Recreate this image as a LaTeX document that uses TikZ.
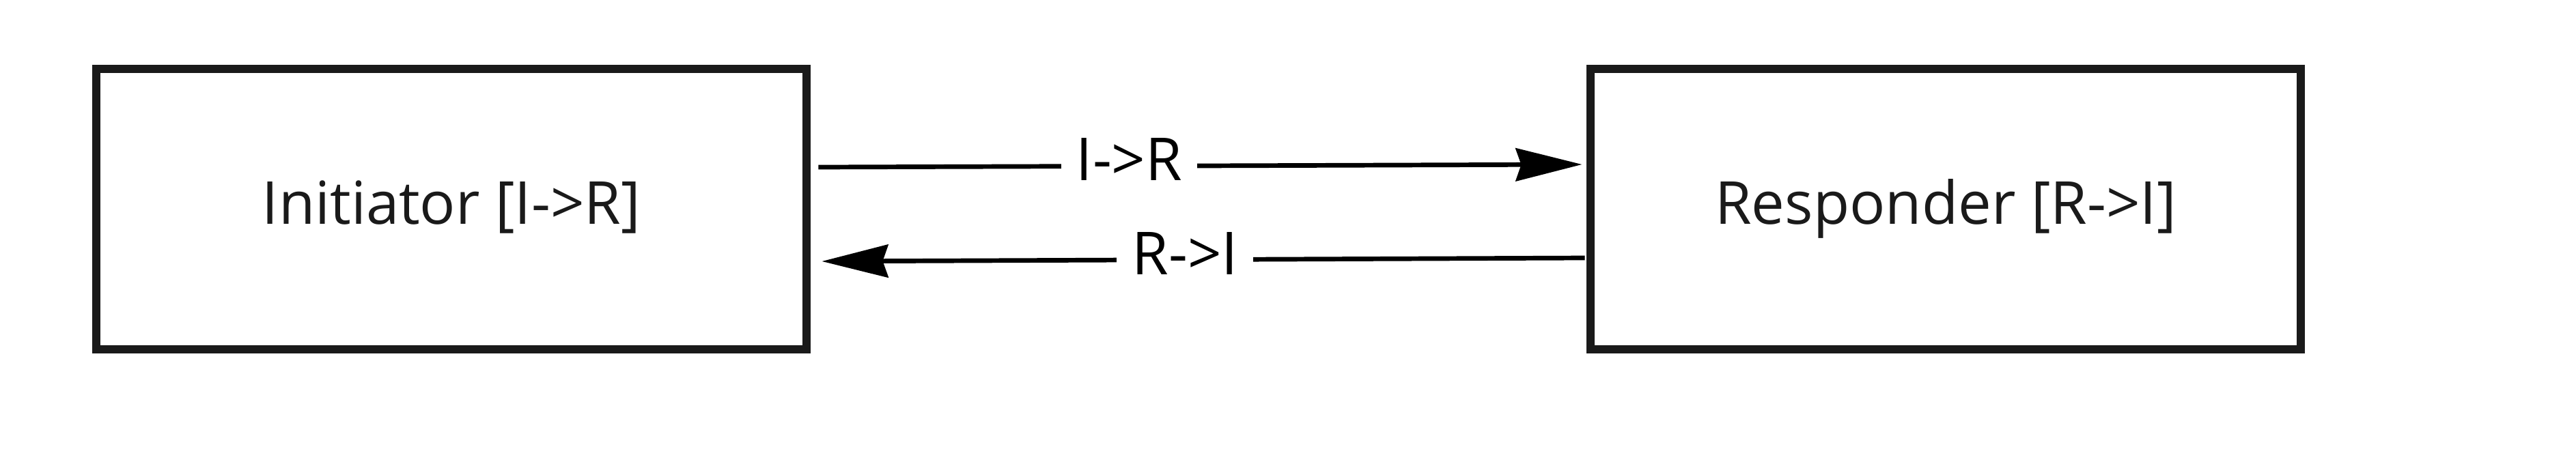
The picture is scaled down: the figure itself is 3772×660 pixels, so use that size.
\documentclass[tikz,border=0pt]{standalone}
\usepackage{fontspec}
\setmainfont{Open Sans}
\usetikzlibrary{arrows.meta}
\definecolor{boxline}{HTML}{1A1A1A}
\begin{document}
\begin{tikzpicture}[x=0.01cm,y=-0.01cm,
  box/.style={draw=boxline, line width=0.123cm, minimum width=10.4cm, minimum height=4.11cm,
    inner sep=0pt, text=boxline, font=\fontsize{24.7}{30}\selectfont, text height=0.66cm, text depth=0.23cm},
  conn/.style={line width=0.067cm, black, -{Stealth[length=0.97cm, width=0.48cm, inset=0.08cm]}},
  lbl/.style={fill=white, inner xsep=0.22cm, inner ysep=0pt, text=black,
    font=\fontsize{24.7}{30}\selectfont, text height=0.66cm, text depth=0.23cm}]
\path[use as bounding box, fill=white] (0,0) rectangle (3772,660);
\node[box] (L) at (661,306.5) {Initiator [I->R]};
\node[box] (R) at (2849,306.5) {Responder [R->I]};
\draw[conn] ([shift={(11,-61.5)}]L.east) -- node[lbl, pos=0.407] (lt) {I->R} ([shift={(-6,-65.5)}]R.west);
\draw[conn] ([shift={(-2,71.5)}]R.west) -- node[lbl, pos=0.524] (lb) {R->I} ([shift={(16,76.5)}]L.east);
\end{tikzpicture}
\end{document}
